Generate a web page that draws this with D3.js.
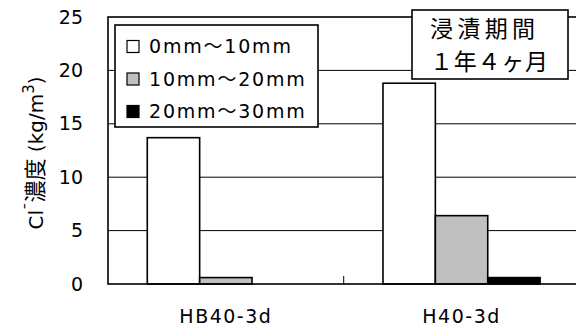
<!DOCTYPE html>
<html>
<head>
<meta charset="utf-8">
<script src="https://cdn.jsdelivr.net/npm/d3@7"></script>
<style>
  html, body { margin: 0; padding: 0; background: #fff; }
  svg { display: block; }
  text { font-family: "DejaVu Sans", "Noto Sans CJK JP", sans-serif; fill: #000; }
</style>
</head>
<body>
<svg id="chart" width="576" height="333"></svg>
<script>
// Chloride concentration by depth after 1 year 4 months of immersion
const categories = ["HB40-3d", "H40-3d"];
const seriesNames = ["0mm～10mm", "10mm～20mm", "20mm～30mm"];
const seriesColors = ["#ffffff", "#c0c0c0", "#000000"];
const depth0to10 = [13.7, 18.8];
const depth10to20 = [0.6, 6.4];
const depth20to30 = [0.0, 0.6];
const yTicks = [0, 5, 10, 15, 20, 25];

const seriesValues = [depth0to10, depth10to20, depth20to30];

const svg = d3.select("#chart");
const plot = { left: 108, top: 17, bottom: 284, right: 579.4 };

const x0 = d3.scaleBand().domain(categories).range([plot.left, plot.right]).paddingInner(0).paddingOuter(0);
const y = d3.scaleLinear().domain([0, 25]).range([plot.bottom, plot.top]);

// inner scale: three bars per category with gaps on both sides
const x1 = d3.scaleBand().domain(seriesNames).range([0, x0.bandwidth()]).paddingOuter(0.75).paddingInner(0);

// plot background
svg.append("rect")
  .attr("x", plot.left).attr("y", plot.top)
  .attr("width", plot.right - plot.left).attr("height", plot.bottom - plot.top)
  .attr("fill", "#fff");

// horizontal gridlines
svg.append("g")
  .selectAll("line")
  .data(yTicks.filter(t => t > 0 && t < 25))
  .join("line")
  .attr("x1", plot.left).attr("x2", plot.right)
  .attr("y1", d => y(d)).attr("y2", d => y(d))
  .attr("stroke", "#000").attr("stroke-width", 1);

// bars
const groups = svg.append("g")
  .selectAll("g")
  .data(categories)
  .join("g")
  .attr("transform", d => `translate(${x0(d)},0)`);

groups.selectAll("rect")
  .data((c, i) => seriesNames.map((s, k) => ({ s, k, v: seriesValues[k][i] })))
  .join("rect")
  .attr("x", d => x1(d.s))
  .attr("y", d => y(d.v))
  .attr("width", x1.bandwidth())
  .attr("height", d => y(0) - y(d.v))
  .attr("fill", d => seriesColors[d.k])
  .attr("stroke", "#000")
  .attr("stroke-width", d => d.v > 0 ? 1.6 : 0);

// plot frame
svg.append("rect")
  .attr("x", plot.left).attr("y", plot.top)
  .attr("width", plot.right - plot.left).attr("height", plot.bottom - plot.top)
  .attr("fill", "none").attr("stroke", "#000").attr("stroke-width", 1.6);

// y axis labels
const yAxis = d3.axisLeft(y).tickValues(yTicks).tickSize(0).tickPadding(25);
const gy = svg.append("g").attr("transform", `translate(${plot.left},0)`).call(yAxis);
gy.select(".domain").remove();
gy.selectAll("text")
  .attr("font-size", 19)
  .attr("font-family", "'DejaVu Sans', sans-serif")
  .attr("fill", "#000");

// x axis: category labels and inner tick marks between categories
const xAxis = d3.axisBottom(x0).tickSize(0).tickPadding(26);
const gx = svg.append("g").attr("transform", `translate(0,${plot.bottom})`).call(xAxis);
gx.select(".domain").remove();
gx.selectAll("text")
  .attr("font-size", 19)
  .attr("letter-spacing", 1.5)
  .attr("font-family", "'DejaVu Sans', sans-serif")
  .attr("fill", "#000");

svg.append("g")
  .selectAll("line")
  .data(categories.slice(1))
  .join("line")
  .attr("x1", d => x0(d)).attr("x2", d => x0(d))
  .attr("y1", plot.bottom).attr("y2", plot.bottom - 8)
  .attr("stroke", "#000").attr("stroke-width", 1);

// y axis title
const yt = svg.append("text")
  .attr("transform", "translate(43,153) rotate(-90)")
  .attr("text-anchor", "middle")
  .attr("font-size", 20);
yt.append("tspan").text("Cl");
yt.append("tspan").attr("dy", -7).attr("font-size", 15).text("¯");
yt.append("tspan").attr("dy", 7).attr("font-family", "'Noto Sans CJK JP', sans-serif").attr("font-size", 22).text("濃度");
yt.append("tspan").text(" (kg/m");
yt.append("tspan").attr("dy", -9).attr("font-size", 15).text("3");
yt.append("tspan").attr("dy", 9).text(")");

// legend
const legend = svg.append("g");
legend.append("rect")
  .attr("x", 115).attr("y", 25).attr("width", 203).attr("height", 102)
  .attr("fill", "#fff").attr("stroke", "#000").attr("stroke-width", 1.6);
const items = legend.selectAll("g.item")
  .data(seriesNames)
  .join("g")
  .attr("class", "item")
  .attr("transform", (d, i) => `translate(0,${46.5 + i * 32.5})`);
items.append("rect")
  .attr("x", 127).attr("y", -6).attr("width", 12).attr("height", 12)
  .attr("fill", (d, i) => seriesColors[i])
  .attr("stroke", "#000").attr("stroke-width", 1.2);
items.append("text")
  .attr("x", 149).attr("y", 0).attr("dy", "0.36em")
  .attr("font-size", 19)
  .attr("letter-spacing", 1.8)
  .text(d => d);

// immersion period box
const note = svg.append("g");
note.append("rect")
  .attr("x", 412).attr("y", 10).attr("width", 156).attr("height", 69)
  .attr("fill", "#fff").attr("stroke", "#000").attr("stroke-width", 1.6);
note.append("text").attr("x", 430).attr("y", 29).attr("dy", "0.36em")
  .attr("font-family", "'Noto Sans CJK JP', sans-serif")
  .attr("font-size", 23).attr("textLength", 105).text("浸漬期間");
note.append("text").attr("x", 430).attr("y", 62).attr("dy", "0.36em")
  .attr("font-family", "'Noto Sans CJK JP', sans-serif")
  .attr("font-size", 23).attr("textLength", 118).text("１年４ヶ月");
</script>
</body>
</html>
